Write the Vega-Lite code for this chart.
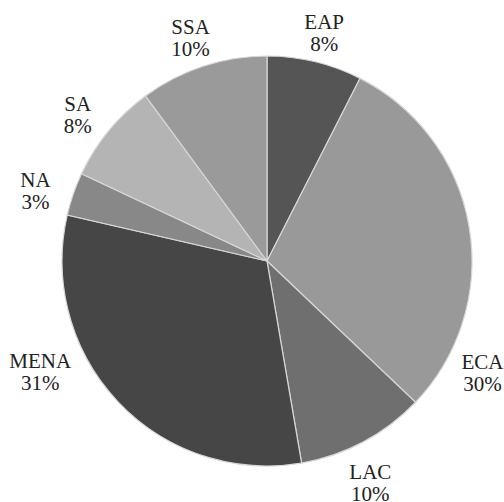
{
  "$schema": "https://vega.github.io/schema/vega-lite/v6.json",
  "width": 474,
  "height": 482,
  "padding": {"left": 30, "top": 20, "right": 0, "bottom": 0},
  "autosize": "none",
  "background": "white",
  "config": {"view": {"stroke": null}},
  "data": {
    "values": [
      {"region": "EAP", "share": 7.5, "label": ["EAP", "8%"]},
      {"region": "ECA", "share": 29.6, "label": ["ECA", "30%"]},
      {"region": "LAC", "share": 10.2, "label": ["LAC", "10%"]},
      {"region": "MENA", "share": 31.3, "label": ["MENA", "31%"]},
      {"region": "NA", "share": 3.4, "label": ["NA", "3%"]},
      {"region": "SA", "share": 7.9, "label": ["SA", "8%"]},
      {"region": "SSA", "share": 10.1, "label": ["SSA", "10%"]}
    ]
  },
  "transform": [
    {"stack": "share", "groupby": [], "sort": [{"field": "region", "order": "ascending"}], "as": ["s0", "s1"]}
  ],
  "layer": [
    {
      "mark": {"type": "arc", "radius": 205, "stroke": "#d8d8d8", "strokeWidth": 1.2},
      "encoding": {
        "theta": {"field": "s0", "type": "quantitative", "scale": {"domain": [0, 100], "range": [0, 6.283185307179586]}},
        "theta2": {"field": "s1"},
        "color": {
          "field": "region",
          "type": "nominal",
          "legend": null,
          "scale": {
            "domain": ["EAP", "ECA", "LAC", "MENA", "NA", "SA", "SSA"],
            "range": ["#555555", "#999999", "#6f6f6f", "#464646", "#888888", "#b4b4b4", "#9a9a9a"]
          }
        }
      }
    },
    {
      "mark": {"type": "text", "radius": 245, "font": "Liberation Serif", "fontSize": 21, "lineHeight": 22, "color": "#222222", "align": "center", "baseline": "middle"},
      "encoding": {
        "theta": {"field": "share", "type": "quantitative", "stack": true, "sort": "ascending"},
        "order": {"field": "region", "type": "nominal", "sort": "ascending"},
        "text": {
          "condition": {"test": "datum.region == 'ECA' || datum.region == 'MENA' || datum.region == 'LAC'", "value": ""},
          "field": "label",
          "type": "nominal"
        }
      }
    },
    {
      "transform": [{"filter": "datum.region == 'ECA'"}],
      "mark": {"type": "text", "radius": 245, "dx": 38, "dy": -67, "font": "Liberation Serif", "fontSize": 21, "lineHeight": 22, "color": "#222222", "align": "center", "baseline": "middle"},
      "encoding": {
        "theta": {"field": "s1", "type": "quantitative"},
        "text": {"field": "label", "type": "nominal"}
      }
    },
    {
      "transform": [{"filter": "datum.region == 'LAC'"}],
      "mark": {"type": "text", "radius": 245, "dx": 62, "dy": -29, "font": "Liberation Serif", "fontSize": 21, "lineHeight": 22, "color": "#222222", "align": "center", "baseline": "middle"},
      "encoding": {
        "theta": {"field": "s1", "type": "quantitative"},
        "text": {"field": "label", "type": "nominal"}
      }
    },
    {
      "transform": [{"filter": "datum.region == 'MENA'"}],
      "mark": {"type": "text", "radius": 245, "dx": 12, "dy": 156, "font": "Liberation Serif", "fontSize": 21, "lineHeight": 22, "color": "#222222", "align": "center", "baseline": "middle"},
      "encoding": {
        "theta": {"field": "s1", "type": "quantitative"},
        "text": {"field": "label", "type": "nominal"}
      }
    }
  ]
}
